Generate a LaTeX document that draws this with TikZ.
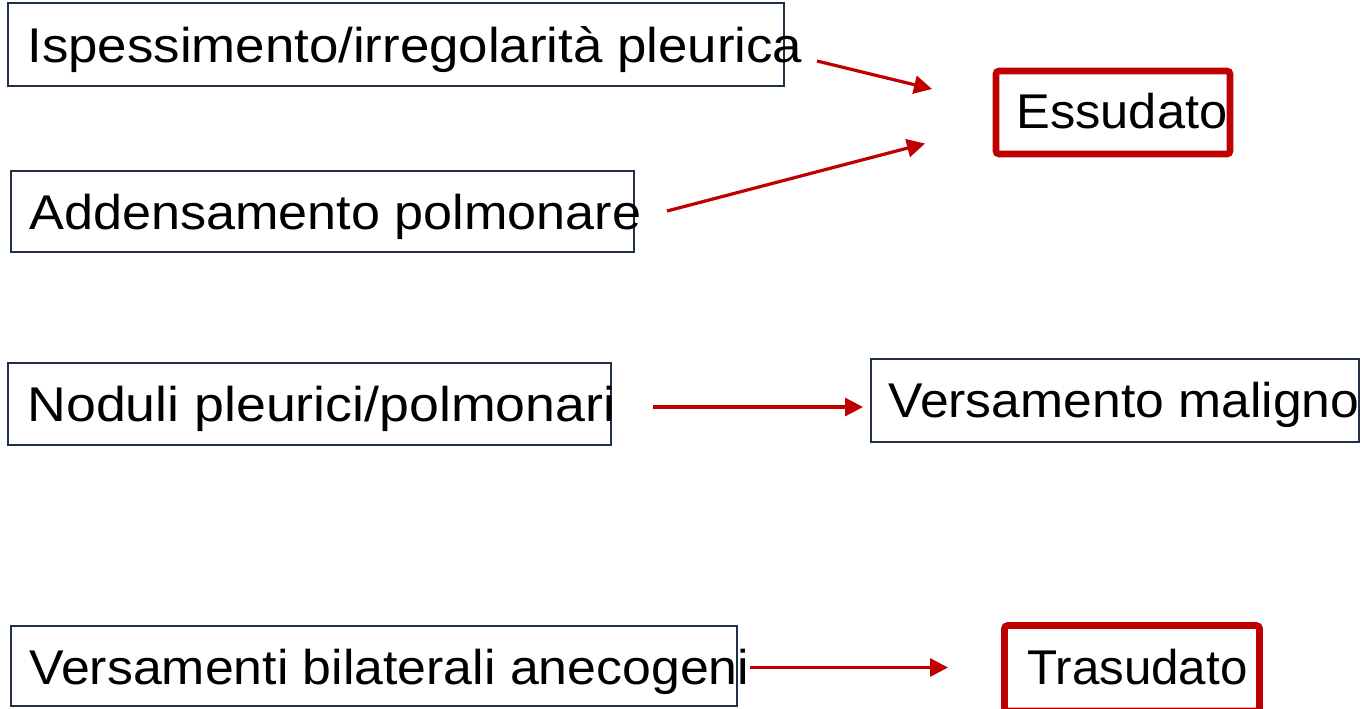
\documentclass[tikz,border=0pt]{standalone}
\usepackage{fontspec}
\setmainfont{Liberation Sans}
\usetikzlibrary{arrows.meta}
\definecolor{navy}{RGB}{31,48,72}
\definecolor{dred}{RGB}{192,0,0}
\newcommand{\fitw}[2]{\resizebox{#1}{\height}{#2}}
\tikzset{
  box/.style={draw=navy, line width=1pt, inner sep=0pt},
  redbox/.style={draw=dred, line width=3.3pt, rounded corners=1.5pt, inner sep=0pt},
  txt/.style={anchor=base west, inner sep=0pt, font=\fontsize{24.4}{29}\selectfont, text=black},
  arr/.style={draw=dred, line width=1.6pt, -{Triangle[length=9pt, width=9pt]}}
}
\begin{document}
\begin{tikzpicture}[x=0.5pt, y=-0.5pt]
\useasboundingbox (0,0) rectangle (1368,708);
\clip (0,0) rectangle (1368,708);
\fill[white] (0,0) rectangle (1368,708);
% boxes
\node[box, minimum width=388pt, minimum height=41.5pt] (b1) at (396,44.5) {};
\node[box, minimum width=311.5pt, minimum height=40.5pt] (b2) at (322.5,211.5) {};
\node[box, minimum width=301.5pt, minimum height=41pt] (b3) at (309.5,404) {};
\node[box, minimum width=363pt, minimum height=40pt] (b4) at (374,666) {};
\node[box, minimum width=244pt, minimum height=41.5pt] (b5) at (1115,400.5) {};
\node[redbox, minimum width=117pt, minimum height=41.5pt] (b6) at (1113,112.5) {};
\node[redbox, minimum width=127.5pt, minimum height=42.75pt] (b7) at (1132,668.25) {};
% texts
\node[txt] (t1) at (27,62) {\fitw{387.5pt}{Ispessimento/irregolarità pleurica}};
\node[txt] (t2) at (29,229) {\fitw{306pt}{Addensamento polmonare}};
\node[txt] (t3) at (27,421) {\fitw{294pt}{Noduli pleurici/polmonari}};
\node[txt] (t4) at (29,684) {\fitw{360pt}{Versamenti bilaterali anecogeni}};
\node[txt] (t5) at (1016,128) {\fitw{105.5pt}{Essudato}};
\node[txt] (t6) at (888,417) {\fitw{235.5pt}{Versamento maligno}};
\node[txt] (t7) at (1027,684) {\fitw{110pt}{Trasudato}};
% arrow end points
\coordinate (a1s) at (817,61);
\coordinate (a1e) at (932,89);
\coordinate (a2s) at (667,211);
\coordinate (a2e) at (925,143.5);
\coordinate (a3s) at (653,407);
\coordinate (a3e) at (863,407);
\coordinate (a4s) at (750,667.5);
\coordinate (a4e) at (948,667.5);
\draw[arr] (a1s) -- (a1e);
\draw[arr] (a2s) -- (a2e);
\draw[arr] (a3s) -- (a3e);
\draw[arr] (a4s) -- (a4e);
\end{tikzpicture}
\end{document}
